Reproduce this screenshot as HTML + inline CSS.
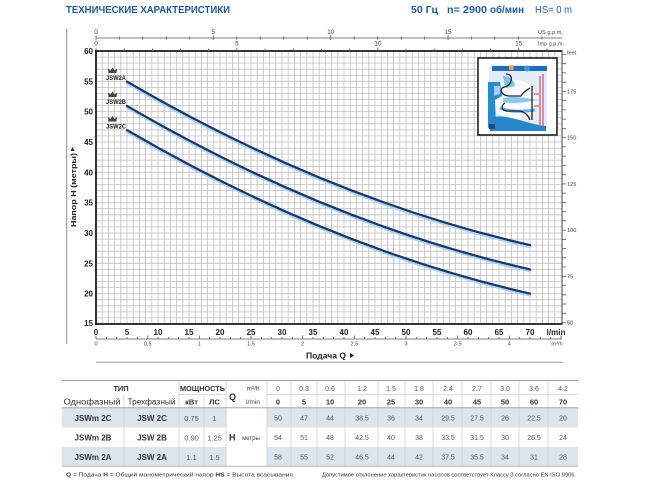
<!DOCTYPE html>
<html><head><meta charset="utf-8"><style>
html,body{margin:0;padding:0;background:#fff;}
svg{display:block;}
</style></head><body>
<svg width="650" height="487" viewBox="0 0 650 487" xmlns="http://www.w3.org/2000/svg" font-family="'Liberation Sans', sans-serif">
<rect width="650" height="487" fill="#fff"/>
<!-- Header -->
<text x="66" y="13" font-size="10.5" font-weight="bold" fill="#1f5a9c" textLength="164" lengthAdjust="spacingAndGlyphs">ТЕХНИЧЕСКИЕ ХАРАКТЕРИСТИКИ</text>
<text x="411" y="13" font-size="10" font-weight="bold" fill="#1f5a9c" textLength="27" lengthAdjust="spacingAndGlyphs">50 Гц</text>
<text x="447" y="13" font-size="10" font-weight="bold" fill="#1f5a9c" textLength="40" lengthAdjust="spacingAndGlyphs">n= 2900</text>
<text x="490" y="13" font-size="10" font-weight="bold" fill="#1f5a9c" textLength="34" lengthAdjust="spacingAndGlyphs">об/мин</text>
<text x="535" y="13" font-size="10" fill="#1f5a9c" textLength="37" lengthAdjust="spacingAndGlyphs">HS= 0 m</text>

<!-- left gray line -->
<line x1="66.7" y1="29" x2="66.7" y2="344" stroke="#8a8a8a" stroke-width="1"/>

<!-- Grid -->
<path fill="none" stroke="#c0c0c0" stroke-width="0.8" d="M102.2 51V324M108.4 51V324M114.6 51V324M120.8 51V324M127 51V324M133.2 51V324M139.4 51V324M145.6 51V324M151.8 51V324M158 51V324M164.2 51V324M170.4 51V324M176.6 51V324M182.8 51V324M189 51V324M195.2 51V324M201.4 51V324M207.6 51V324M213.8 51V324M220 51V324M226.2 51V324M232.4 51V324M238.6 51V324M244.8 51V324M251 51V324M257.2 51V324M263.4 51V324M269.6 51V324M275.8 51V324M282 51V324M288.2 51V324M294.4 51V324M300.6 51V324M306.8 51V324M313 51V324M319.2 51V324M325.4 51V324M331.6 51V324M337.8 51V324M344 51V324M350.2 51V324M356.4 51V324M362.6 51V324M368.8 51V324M375 51V324M381.2 51V324M387.4 51V324M393.6 51V324M399.8 51V324M406 51V324M412.2 51V324M418.4 51V324M424.6 51V324M430.8 51V324M437 51V324M443.2 51V324M449.4 51V324M455.6 51V324M461.8 51V324M468 51V324M474.2 51V324M480.4 51V324M486.6 51V324M492.8 51V324M499 51V324M505.2 51V324M511.4 51V324M517.6 51V324M523.8 51V324M530 51V324M536.2 51V324M542.4 51V324M548.6 51V324M554.8 51V324
M96 317.9H562M96 311.9H562M96 305.8H562M96 299.7H562M96 293.7H562M96 287.6H562M96 281.5H562M96 275.5H562M96 269.4H562M96 263.3H562M96 257.3H562M96 251.2H562M96 245.1H562M96 239.1H562M96 233H562M96 226.9H562M96 220.9H562M96 214.8H562M96 208.7H562M96 202.7H562M96 196.6H562M96 190.5H562M96 184.5H562M96 178.4H562M96 172.3H562M96 166.3H562M96 160.2H562M96 154.1H562M96 148.1H562M96 142H562M96 135.9H562M96 129.9H562M96 123.8H562M96 117.7H562M96 111.7H562M96 105.6H562M96 99.5H562M96 93.5H562M96 87.4H562M96 81.3H562M96 75.3H562M96 69.2H562M96 63.1H562M96 57.1H562"/>

<!-- Inset picture -->
<rect x="478" y="58" width="79" height="77" fill="#fff" stroke="#222" stroke-width="1.6"/>
<rect x="489" y="65" width="58" height="66" fill="#e2edf7"/>
<ellipse cx="515" cy="100" rx="22" ry="20" fill="#f7fbfe"/>
<rect x="492" y="66" width="55" height="5" fill="#1e6fb8"/>
<rect x="509" y="65.5" width="4.5" height="4.5" fill="#f0a040"/>
<circle cx="527" cy="68.5" r="3" fill="#3b9be0"/>
<path d="M488 82 L500 82 L502 96 L495 100 L496 126 L488 128 Z" fill="#2a8ad0"/>
<path d="M494 86 L500 86 L500 94 L494 96 Z" fill="#9fd0f0"/>
<path d="M503 76 C510 76 514 80 515 86 L506 88 Z" fill="#7dc0ea"/>
<path d="M490 118 C505 112 525 124 546 126 L546 131 L490 131 Z" fill="#2a86c8"/>
<rect x="489" y="124" width="6" height="5" fill="#1a4a80"/>
<path d="M503 98 C512 96 522 97 538 100 C522 103 512 104 503 102 Z" fill="#8cc8ee"/>
<path d="M500 108 C510 112 520 112 535 110" stroke="#5db0e6" stroke-width="3" fill="none"/>
<path d="M506 74 C514 74 512 84 507 86 L502 88 C500 92 503 96 510 96 L521 96 C523 92 527 90 530 88" stroke="#222" stroke-width="1.3" fill="none"/>
<path d="M505 103 C500 106 502 111 508 111 L520 111 C524 112 528 114 530 120" stroke="#222" stroke-width="1.3" fill="none"/>
<path d="M532 86 L532 120" stroke="#222" stroke-width="1.3" fill="none"/>
<line x1="540" y1="76" x2="540" y2="125" stroke="#d0304a" stroke-width="1"/>
<line x1="543" y1="74" x2="543" y2="126" stroke="#d0304a" stroke-width="1"/>
<path d="M534 94 L539 94 M534 106 L539 106" stroke="#d0304a" stroke-width="1"/>

<!-- Curves -->
<g fill="none" stroke-linecap="round">
<path d="M127 83.1 Q328.5 200.7 530 246.6" stroke="#a9d2ee" stroke-width="3"/>
<path d="M127 107.4 Q328.5 225 530 270.9" stroke="#a9d2ee" stroke-width="3"/>
<path d="M127 131.6 Q328.5 249.2 530 295.1" stroke="#a9d2ee" stroke-width="3"/>
<path d="M127 81.6 Q328.5 199.2 530 245.1" stroke="#1b3564" stroke-width="2.2"/>
<path d="M127 105.9 Q328.5 223.5 530 269.4" stroke="#1b3564" stroke-width="2.2"/>
<path d="M127 130.1 Q328.5 247.7 530 293.6" stroke="#1b3564" stroke-width="2.2"/>
</g>

<!-- Curve labels -->
<g fill="#444">
<path d="M108.5 73 L108 68.5 L110.5 70.5 L112.5 67.5 L114.5 70.5 L117 68.5 L116.5 73 Z"/>
<path d="M108.5 97 L108 92.5 L110.5 94.5 L112.5 91.5 L114.5 94.5 L117 92.5 L116.5 97 Z"/>
<path d="M108.5 121.5 L108 117 L110.5 119 L112.5 116 L114.5 119 L117 117 L116.5 121.5 Z"/>
</g>
<g font-size="6.2" font-weight="bold" fill="#222">
<text x="106" y="80" textLength="20" lengthAdjust="spacingAndGlyphs">JSW2A</text>
<text x="106" y="104" textLength="20" lengthAdjust="spacingAndGlyphs">JSW2B</text>
<text x="106" y="128.3" textLength="20" lengthAdjust="spacingAndGlyphs">JSW2C</text>
</g>

<!-- Frame -->
<line x1="562" y1="51" x2="562" y2="324" stroke="#444" stroke-width="1"/>
<line x1="95" y1="51" x2="562.5" y2="51" stroke="#1a1a1a" stroke-width="1.8"/>
<line x1="95" y1="324" x2="562.5" y2="324" stroke="#1a1a1a" stroke-width="1.8"/>
<line x1="96" y1="50" x2="96" y2="325" stroke="#1a1a1a" stroke-width="1.8"/>

<!-- Left Y labels -->
<g font-size="8" font-weight="bold" fill="#222" text-anchor="end">
<text x="93" y="54">60</text>
<text x="93" y="84.3">55</text>
<text x="93" y="114.7">50</text>
<text x="93" y="145">45</text>
<text x="93" y="175.3">40</text>
<text x="93" y="205.7">35</text>
<text x="93" y="236">30</text>
<text x="93" y="266.3">25</text>
<text x="93" y="296.7">20</text>
<text x="93" y="326">15</text>
</g>
<text transform="translate(76,190) rotate(-90)" text-anchor="middle" font-size="7.5" font-weight="bold" fill="#222" textLength="74" lengthAdjust="spacingAndGlyphs">Напор  H  (метры)</text>
<polygon points="70.5,151 74.5,151 72.5,147" fill="#222"/>

<!-- Bottom X labels (l/min) -->
<g font-size="8" font-weight="bold" fill="#222" text-anchor="middle">
<text x="96" y="335">0</text>
<text x="127" y="335">5</text>
<text x="158" y="335">10</text>
<text x="189" y="335">15</text>
<text x="220" y="335">20</text>
<text x="251" y="335">25</text>
<text x="282" y="335">30</text>
<text x="313" y="335">35</text>
<text x="344" y="335">40</text>
<text x="375" y="335">45</text>
<text x="406" y="335">50</text>
<text x="437" y="335">55</text>
<text x="468" y="335">60</text>
<text x="499" y="335">65</text>
<text x="530" y="335">70</text>
<text x="556" y="335">l/min</text>
</g>

<!-- m3/h axis -->
<line x1="96" y1="339" x2="562" y2="339" stroke="#555" stroke-width="0.8"/>
<path stroke="#555" stroke-width="0.8" fill="none" d="M96 335.5V339M106.3 337V339M116.7 337V339M127 337V339M137.3 337V339M147.7 335.5V339M158 337V339M168.3 337V339M178.7 337V339M189 337V339M199.3 335.5V339M209.7 337V339M220 337V339M230.3 337V339M240.7 337V339M251 335.5V339M261.3 337V339M271.7 337V339M282 337V339M292.3 337V339M302.7 335.5V339M313 337V339M323.3 337V339M333.7 337V339M344 337V339M354.3 335.5V339M364.7 337V339M375 337V339M385.3 337V339M395.7 337V339M406 335.5V339M416.3 337V339M426.7 337V339M437 337V339M447.3 337V339M457.7 335.5V339M468 337V339M478.3 337V339M488.7 337V339M499 337V339M509.3 335.5V339M519.7 337V339M530 337V339M540.3 337V339M550.7 337V339M561 335.5V339"/>
<g font-size="5.6" fill="#444" text-anchor="middle">
<text x="96" y="345.5">0</text>
<text x="147.7" y="345.5">0.5</text>
<text x="199.3" y="345.5">1</text>
<text x="251" y="345.5">1.5</text>
<text x="302.7" y="345.5">2</text>
<text x="354.3" y="345.5">2.5</text>
<text x="406" y="345.5">3</text>
<text x="457.7" y="345.5">3.5</text>
<text x="509.3" y="345.5">4</text>
<text x="557" y="345.5">m³/h</text>
</g>
<text x="306" y="358.5" font-size="8" font-weight="bold" fill="#222" textLength="40" lengthAdjust="spacingAndGlyphs">Подача  Q</text>
<polygon points="350,353 350,358 354,355.5" fill="#222"/>
<line x1="96" y1="362.3" x2="562.5" y2="362.3" stroke="#999" stroke-width="1"/>

<!-- Top US gpm axis -->
<line x1="96" y1="38" x2="562" y2="38" stroke="#555" stroke-width="0.8"/>
<path stroke="#555" stroke-width="0.8" fill="none" d="M96 35.5V40M119.5 36.5V39.5M142.9 36.5V39.5M166.4 36.5V39.5M189.9 36.5V39.5M213.3 35.5V40M236.8 36.5V39.5M260.3 36.5V39.5M283.7 36.5V39.5M307.2 36.5V39.5M330.7 35.5V40M354.1 36.5V39.5M377.6 36.5V39.5M401.1 36.5V39.5M424.5 36.5V39.5M448 35.5V40M471.5 36.5V39.5M494.9 36.5V39.5M518.4 36.5V39.5M541.9 36.5V39.5"/>
<g font-size="6.5" fill="#444" text-anchor="middle">
<text x="96" y="34">0</text>
<text x="213.3" y="34">5</text>
<text x="330.7" y="34">10</text>
<text x="448" y="34">15</text>
<text x="96" y="45.5">0</text>
<text x="236.9" y="45.5">5</text>
<text x="377.9" y="45.5">10</text>
<text x="518.8" y="45.5">15</text>
</g>
<text x="538" y="34" font-size="5.5" fill="#444" textLength="25" lengthAdjust="spacingAndGlyphs">US g.p.m.</text>
<text x="538" y="45.5" font-size="5.5" fill="#444" textLength="26" lengthAdjust="spacingAndGlyphs">Imp g.p.m.</text>
<!-- Imp ticks -->
<path stroke="#555" stroke-width="0.8" fill="none" d="M96 47.5V51M124.2 48.5V51M152.4 48.5V51M180.6 48.5V51M208.7 48.5V51M236.9 47.5V51M265.1 48.5V51M293.3 48.5V51M321.5 48.5V51M349.7 48.5V51M377.9 47.5V51M406 48.5V51M434.2 48.5V51M462.4 48.5V51M490.6 48.5V51M518.8 47.5V51M547 48.5V51"/>

<!-- Right feet axis -->
<path stroke="#555" stroke-width="0.8" fill="none" d="M562 322.5h4M562 313.3h4M562 304h4M562 294.8h4M562 285.5h4M562 276.3h4M562 267h4M562 257.8h4M562 248.6h4M562 239.3h4M562 230.1h4M562 220.8h4M562 211.6h4M562 202.3h4M562 193.1h4M562 183.9h4M562 174.6h4M562 165.4h4M562 156.1h4M562 146.9h4M562 137.6h4M562 128.4h4M562 119.1h4M562 109.9h4M562 100.7h4M562 91.4h4M562 82.2h4M562 72.9h4M562 63.7h4M562 54.4h4"/>
<g font-size="5.6" fill="#444">
<text x="567" y="54.5">feet</text>
<text x="567" y="93.4">175</text>
<text x="567" y="139.6">150</text>
<text x="567" y="185.9">125</text>
<text x="567" y="232.1">100</text>
<text x="567" y="278.3">75</text>
<text x="567" y="324.5">50</text>
</g>

<!-- TABLE -->
<rect x="62" y="408" width="516" height="19.5" fill="#dce4ec"/>
<rect x="62" y="447" width="516" height="19" fill="#dce4ec"/>
<rect x="226.5" y="408" width="40" height="58" fill="#fff"/>
<g stroke="#cfcfcf" stroke-width="0.8">
<line x1="124" y1="394.5" x2="124" y2="466"/>
<line x1="179" y1="380" x2="179" y2="466"/>
<line x1="204" y1="394.5" x2="204" y2="466"/>
<line x1="226" y1="380" x2="226" y2="466"/>
<line x1="267" y1="380" x2="267" y2="466"/>
<line x1="291" y1="380" x2="291" y2="466"/>
<line x1="317" y1="380" x2="317" y2="466"/>
<line x1="345" y1="380" x2="345" y2="466"/>
<line x1="378" y1="380" x2="378" y2="466"/>
<line x1="405" y1="380" x2="405" y2="466"/>
<line x1="433" y1="380" x2="433" y2="466"/>
<line x1="462" y1="380" x2="462" y2="466"/>
<line x1="491" y1="380" x2="491" y2="466"/>
<line x1="519" y1="380" x2="519" y2="466"/>
<line x1="548" y1="380" x2="548" y2="466"/>
<line x1="179" y1="394.5" x2="226" y2="394.5"/>
<line x1="267" y1="394.5" x2="578" y2="394.5"/>
</g>
<line x1="62" y1="380.5" x2="578" y2="380.5" stroke="#a5a5a5" stroke-width="1"/>
<line x1="62" y1="407.8" x2="578" y2="407.8" stroke="#a5a5a5" stroke-width="1"/>
<line x1="62" y1="466.2" x2="578" y2="466.2" stroke="#b5b5b5" stroke-width="1"/>

<g fill="#333" text-anchor="middle">
<text x="121" y="391" font-size="7.5" font-weight="bold">ТИП</text>
<text x="202.5" y="391" font-size="7" font-weight="bold" textLength="45" lengthAdjust="spacingAndGlyphs">МОЩНОСТЬ</text>
<text x="92" y="404.5" font-size="8" textLength="57" lengthAdjust="spacingAndGlyphs">Однофазный</text>
<text x="151.5" y="404.5" font-size="8" textLength="48" lengthAdjust="spacingAndGlyphs">Трехфазный</text>
<text x="191.5" y="404.5" font-size="7.5" font-weight="bold">кВт</text>
<text x="214.5" y="404.5" font-size="7.5" font-weight="bold">ЛС</text>
</g>
<text x="229" y="400" font-size="9" font-weight="bold" fill="#333">Q</text>
<text x="253" y="390.5" font-size="6.5" fill="#444" text-anchor="middle">m³/h</text>
<text x="253" y="404" font-size="6.5" fill="#444" text-anchor="middle">l/min</text>
<text x="229" y="440.5" font-size="9" font-weight="bold" fill="#333">H</text>
<text x="251" y="440" font-size="6" fill="#444" text-anchor="middle">метры</text>

<!-- m3/h row -->
<g font-size="7" fill="#555" text-anchor="middle">
<text x="278" y="391">0</text><text x="304" y="391">0.3</text><text x="330" y="391">0.6</text><text x="362" y="391">1.2</text><text x="391" y="391">1.5</text><text x="419" y="391">1.8</text><text x="448" y="391">2.4</text><text x="477" y="391">2.7</text><text x="505" y="391">3.0</text><text x="534" y="391">3.6</text><text x="563" y="391">4.2</text>
</g>
<g font-size="7.5" font-weight="bold" fill="#333" text-anchor="middle">
<text x="278" y="404.5">0</text><text x="304" y="404.5">5</text><text x="330" y="404.5">10</text><text x="362" y="404.5">20</text><text x="391" y="404.5">25</text><text x="419" y="404.5">30</text><text x="448" y="404.5">40</text><text x="477" y="404.5">45</text><text x="505" y="404.5">50</text><text x="534" y="404.5">60</text><text x="563" y="404.5">70</text>
</g>

<!-- Body rows -->
<g font-size="8" font-weight="bold" fill="#333" text-anchor="middle">
<text x="93" y="420.8">JSWm 2C</text><text x="152" y="420.8">JSW 2C</text>
<text x="93" y="440.3">JSWm 2B</text><text x="152" y="440.3">JSW 2B</text>
<text x="93" y="459.8">JSWm 2A</text><text x="152" y="459.8">JSW 2A</text>
</g>
<g font-size="7.5" fill="#555" text-anchor="middle">
<text x="191.5" y="420.8">0.75</text><text x="214.5" y="420.8">1</text>
<text x="191.5" y="440.3">0.90</text><text x="214.5" y="440.3">1.25</text>
<text x="191.5" y="459.8">1.1</text><text x="214.5" y="459.8">1.5</text>
</g>
<g font-size="7" fill="#555" text-anchor="middle">
<text x="278" y="420.5">50</text><text x="304" y="420.5">47</text><text x="330" y="420.5">44</text><text x="362" y="420.5">38.5</text><text x="391" y="420.5">36</text><text x="419" y="420.5">34</text><text x="448" y="420.5">29.5</text><text x="477" y="420.5">27.5</text><text x="505" y="420.5">26</text><text x="534" y="420.5">22.5</text><text x="563" y="420.5">20</text>
<text x="278" y="440">54</text><text x="304" y="440">51</text><text x="330" y="440">48</text><text x="362" y="440">42.5</text><text x="391" y="440">40</text><text x="419" y="440">38</text><text x="448" y="440">33.5</text><text x="477" y="440">31.5</text><text x="505" y="440">30</text><text x="534" y="440">26.5</text><text x="563" y="440">24</text>
<text x="278" y="459.5">58</text><text x="304" y="459.5">55</text><text x="330" y="459.5">52</text><text x="362" y="459.5">46.5</text><text x="391" y="459.5">44</text><text x="419" y="459.5">42</text><text x="448" y="459.5">37.5</text><text x="477" y="459.5">35.5</text><text x="505" y="459.5">34</text><text x="534" y="459.5">31</text><text x="563" y="459.5">28</text>
</g>

<!-- Footer -->
<text x="66" y="476.5" font-size="5.6" fill="#333" textLength="227" lengthAdjust="spacingAndGlyphs"><tspan font-weight="bold">Q</tspan> = Подача   <tspan font-weight="bold">H</tspan> = Общий манометрический напор   <tspan font-weight="bold">HS</tspan> = Высота всасывания</text>
<text x="322" y="476.5" font-size="5.6" fill="#333" textLength="254" lengthAdjust="spacingAndGlyphs">Допустимое отклонение характеристик насосов соответствует Классу 3 согласно EN ISO 9906.</text>
</svg>
</body></html>
